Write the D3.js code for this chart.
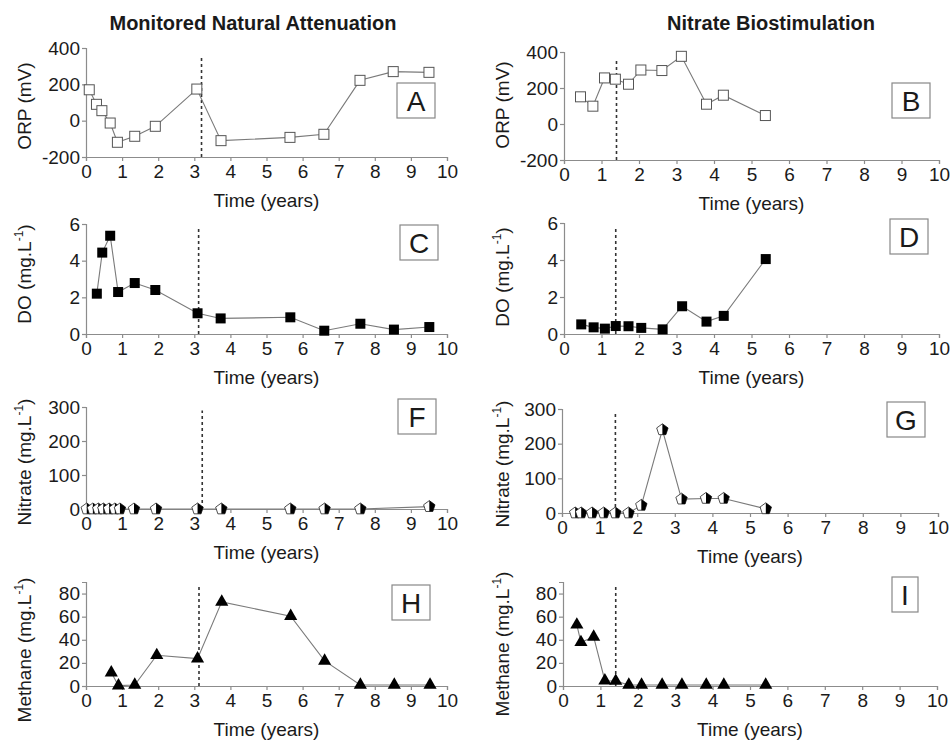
<!DOCTYPE html>
<html><head><meta charset="utf-8">
<script src="https://cdn.jsdelivr.net/npm/d3@7"></script>
<style>body{margin:0;background:#fff}svg{display:block}text{font-family:"Liberation Sans",Arial,sans-serif;fill:#1a1a1a}</style>
</head><body>
<svg id="c" width="951" height="740"></svg>
<script>
// ---------- data ----------
const xTicks = [0,1,2,3,4,5,6,7,8,9,10];
const orpTicks = [-200,0,200,400];
const doTicks = [0,2,4,6];
const nitrateTicks = [0,100,200,300];
const methaneTicks = [0,20,40,60,80];

const orpMNA_t = [0.09,0.29,0.44,0.67,0.87,1.35,1.92,3.07,3.74,5.65,6.59,7.59,8.51,9.50];
const orpMNA_v = [170,90,55,-13,-119,-86,-31,174,-110,-92,-75,222,270,266];
const orpNB_t  = [0.44,0.77,1.08,1.37,1.72,2.05,2.61,3.13,3.80,4.25,5.37];
const orpNB_v  = [151,99,256,249,221,300,297,376,110,160,47];

const doMNA_t = [0.30,0.45,0.67,0.89,1.35,1.92,3.09,3.73,5.66,6.60,7.60,8.53,9.51];
const doMNA_v = [2.2,4.44,5.36,2.29,2.78,2.4,1.13,0.85,0.91,0.18,0.56,0.24,0.38];
const doNB_t  = [0.46,0.79,1.09,1.38,1.72,2.06,2.63,3.15,3.80,4.26,5.38];
const doNB_v  = [0.52,0.36,0.29,0.43,0.42,0.33,0.25,1.5,0.67,0.98,4.05];

const nitMNA_t = [0.02,0.19,0.34,0.48,0.64,0.80,0.94,1.33,1.94,3.09,3.75,5.66,6.61,7.60,9.51];
const nitMNA_v = [0,0,0,0,0,0,0,0,0,0,0,0,0,0,7];
const nitNB_t  = [0.35,0.51,0.80,1.11,1.42,1.77,2.11,2.67,3.18,3.83,4.30,5.42];
const nitNB_v  = [0,0,0,0,0,0,22,240,40,42,42,12];

const ch4MNA_t = [0.70,0.90,1.35,1.96,3.09,3.76,5.67,6.61,7.60,8.54,9.53];
const ch4MNA_v = [11.6,0.3,0.9,26.6,23.7,72.8,60.4,21.7,0.9,0.9,0.9];
const ch4NB_t  = [0.37,0.48,0.82,1.12,1.41,1.76,2.10,2.65,3.18,3.83,4.30,5.42];
const ch4NB_v  = [53,37.8,42.5,4.6,4.3,0.9,0.9,0.9,0.9,0.9,0.9,0.9];

const dashMNA = [3.2,3.12,3.22,3.13];
const dashNB = [1.4,1.38,1.42,1.41];
const columnTitles = ["Monitored Natural Attenuation","Nitrate Biostimulation"];
const panelLetters = ["A","B","C","D","F","G","H","I"];
const xLabel = "Time (years)";

// ---------- layout ----------
const svg = d3.select("#c");
const L = {x0:86,x1:447}, R = {x0:564,x1:939};
const panels = [
 {col:L,top:48,bot:157,dom:[-200,400],ticks:orpTicks,t:orpMNA_t,v:orpMNA_v,mk:"open",dash:dashMNA[0],dTop:350,lab:"ORP (mV)",sup:false,ly:106,box:[397,83]},
 {col:R,top:52,bot:160,dom:[-200,400],ticks:orpTicks,t:orpNB_t,v:orpNB_v,mk:"open",dash:dashNB[0],dTop:350,lab:"ORP (mV)",sup:false,ly:105,box:[892,83]},
 {col:L,top:224,bot:334,dom:[0,6],ticks:doTicks,t:doMNA_t,v:doMNA_v,mk:"fill",dash:dashMNA[1],dTop:5.8,lab:"DO (mg.L",sup:true,ly:274,box:[400,225]},
 {col:R,top:223,bot:334,dom:[0,6],ticks:doTicks,t:doNB_t,v:doNB_v,mk:"fill",dash:dashNB[1],dTop:5.8,lab:"DO (mg.L",sup:true,ly:277,box:[890,219]},
 {col:L,top:407,bot:509,dom:[0,300],ticks:nitrateTicks,t:nitMNA_t,v:nitMNA_v,mk:"pent",dash:dashMNA[2],dTop:290,lab:"Nitrate (mg.L",sup:true,ly:462,box:[398,399]},
 {col:{x0:562,x1:938},top:409,bot:513,dom:[0,300],ticks:nitrateTicks,t:nitNB_t,v:nitNB_v,mk:"pent",dash:dashNB[2],dTop:290,lab:"Nitrate (mg.L",sup:true,ly:464,box:[887,402]},
 {col:L,top:582,bot:686,dom:[0,90],ticks:methaneTicks,t:ch4MNA_t,v:ch4MNA_v,mk:"tri",dash:dashMNA[3],dTop:88,lab:"Methane (mg.L",sup:true,ly:650,box:[392,585]},
 {col:{x0:563,x1:937},top:582,bot:686,dom:[0,90],ticks:methaneTicks,t:ch4NB_t,v:ch4NB_v,mk:"tri",dash:dashNB[3],dTop:88,lab:"Methane (mg.L",sup:true,ly:644,box:[892,577]}
];

// titles
svg.append("text").attr("x",253).attr("y",30).attr("text-anchor","middle")
  .style("font-weight","bold").style("font-size","20px").text(columnTitles[0]);
svg.append("text").attr("x",771).attr("y",30).attr("text-anchor","middle")
  .style("font-weight","bold").style("font-size","20px").text(columnTitles[1]);

const AX = "#8c8c8c", LN = "#7a7a7a";
const fmt = d => String(d);

panels.forEach((p,i)=>{
  const g = svg.append("g");
  const x = d3.scaleLinear().domain([0,10]).range([p.col.x0,p.col.x1]);
  const y = d3.scaleLinear().domain(p.dom).range([p.bot,p.top]);

  // axes
  const xa = g.append("g").attr("transform",`translate(0,${p.bot})`)
    .call(d3.axisBottom(x).tickValues(xTicks).tickSize(4).tickPadding(2).tickFormat(fmt));
  const ya = g.append("g").attr("transform",`translate(${p.col.x0},0)`)
    .call(d3.axisLeft(y).tickValues(p.ticks).tickSize(4).tickPadding(2).tickFormat(fmt));
  [xa,ya].forEach(a=>{
    a.select(".domain").attr("stroke",AX).attr("stroke-width",1.2);
    a.selectAll(".tick line").attr("stroke",AX).attr("stroke-width",1.2);
    a.selectAll("text").style("font-size","19px").attr("fill","#1a1a1a").style("font-family","'Liberation Sans',Arial,sans-serif");
  });
  xa.selectAll("text").attr("dy","0.78em");

  // x label
  g.append("text").attr("x",(p.col.x0+p.col.x1)/2).attr("y",p.bot+50)
    .attr("text-anchor","middle").style("font-size","19px").text(xLabel);

  // y label
  const lx = p.col.x0 < 300 ? 31 : 509;
  const yl = g.append("text").attr("transform",`translate(${lx},${p.ly}) rotate(-90)`)
    .attr("text-anchor","middle").style("font-size","19px");
  yl.append("tspan").text(p.lab);
  if(p.sup){
    yl.append("tspan").attr("dy",-8).style("font-size","12px").text("-1");
    yl.append("tspan").attr("dy",8).text(")");
  }

  // dashed line
  g.append("line").attr("x1",x(p.dash)).attr("x2",x(p.dash))
    .attr("y1",y(p.dom[0])).attr("y2",y(p.dTop))
    .attr("stroke","#333").attr("stroke-width",1.6).attr("stroke-dasharray","3,3");

  // data line
  const pts = p.t.map((t,k)=>[t,p.v[k]]);
  g.append("path").datum(pts).attr("fill","none").attr("stroke",LN).attr("stroke-width",1.1)
    .attr("d",d3.line().x(d=>x(d[0])).y(d=>y(d[1])));

  // markers
  const m = g.selectAll(".m").data(pts).enter().append("g")
    .attr("transform",d=>`translate(${x(d[0])},${y(d[1])})`);
  if(p.mk==="open"){
    m.append("rect").attr("x",-5).attr("y",-5).attr("width",10).attr("height",10)
      .attr("fill","#fff").attr("stroke","#555").attr("stroke-width",1);
  } else if(p.mk==="fill"){
    m.append("rect").attr("x",-5).attr("y",-5).attr("width",10).attr("height",10)
      .attr("fill","#000");
  } else if(p.mk==="tri"){
    m.append("path").attr("d",d3.symbol(d3.symbolTriangle,75)).attr("fill","#000");
  } else {
    const r=6;
    const pp = d3.range(5).map(k=>{const a=-Math.PI/2+k*2*Math.PI/5;return [r*Math.cos(a),r*Math.sin(a)];});
    m.append("path").attr("d","M"+pp.map(q=>q.join(",")).join("L")+"Z")
      .attr("fill","#fff").attr("stroke","#222").attr("stroke-width",0.8);
    const right = [[0,pp[0][1]],pp[1],pp[2],[0,pp[2][1]]];
    m.append("path").attr("d","M"+right.map(q=>q.join(",")).join("L")+"Z").attr("fill","#000");
  }

  // letter box
  const w = panelLetters[i]==="I" ? 26 : 38, h = 35;
  const bg = g.append("g");
  bg.append("rect").attr("x",p.box[0]).attr("y",p.box[1]).attr("width",w).attr("height",h)
    .attr("fill","#fff").attr("stroke","#888").attr("stroke-width",1.2);
  bg.append("text").attr("x",p.box[0]+w/2).attr("y",p.box[1]+h/2+10).attr("text-anchor","middle")
    .style("font-size","28px").text(panelLetters[i]);
});
</script>
</body></html>
